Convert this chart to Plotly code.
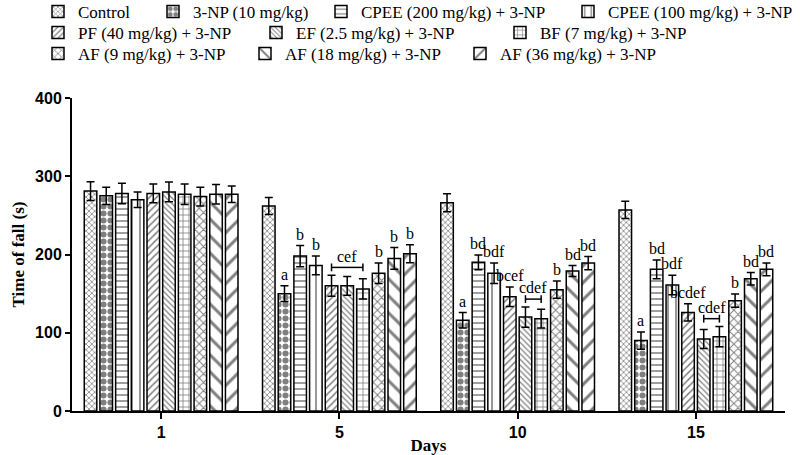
import plotly.graph_objects as go

days = ["1", "5", "10", "15"]
series_names = [
    "Control", "3-NP (10 mg/kg)", "CPEE (200 mg/kg) + 3-NP", "CPEE (100 mg/kg) + 3-NP",
    "PF (40 mg/kg) + 3-NP", "EF (2.5 mg/kg) + 3-NP", "BF (7 mg/kg) + 3-NP",
    "AF (9 mg/kg) + 3-NP", "AF (18 mg/kg) + 3-NP", "AF (36 mg/kg) + 3-NP",
]
control = [281, 262, 266, 257]
np3 = [275, 150, 116, 90]
cpee200 = [278, 198, 190, 181]
cpee100 = [270, 186, 176, 161]
pf40 = [278, 160, 146, 126]
ef25 = [280, 160, 120, 92]
bf7 = [277, 156, 118, 95]
af9 = [274, 176, 155, 141]
af18 = [277, 195, 179, 169]
af36 = [277, 201, 189, 181]
values = [control, np3, cpee200, cpee100, pf40, ef25, bf7, af9, af18, af36]

err_control = [12, 11, 11.5, 11]
err_np3 = [11, 10, 10, 11]
err_cpee200 = [13, 13.5, 9.5, 12]
err_cpee100 = [10, 12, 13, 12.5]
err_pf40 = [12, 13.5, 12.5, 11]
err_ef25 = [12.5, 12, 13, 12]
err_bf7 = [13, 13, 12, 13]
err_af9 = [12, 13, 11, 8.5]
err_af18 = [12.5, 14, 7, 8]
err_af36 = [10.5, 11.5, 8.5, 8]
errors = [err_control, err_np3, err_cpee200, err_cpee100, err_pf40, err_ef25,
          err_bf7, err_af9, err_af18, err_af36]

# significance letters per series per day
labels = [
    ["", "", "", ""],
    ["", "a", "a", "a"],
    ["", "b", "bd", "bd"],
    ["", "b", "bdf", "bdf"],
    ["", "", "bcef", "bcdef"],
    ["", "", "", ""],
    ["", "", "", ""],
    ["", "b", "b", "b"],
    ["", "b", "bd", "bd"],
    ["", "b", "bd", "bd"],
]
# bracket labels: (day index, first series, last series, label)
brackets = [(1, 4, 6, "cef"), (2, 5, 6, "cdef"), (3, 5, 6, "cdef")]

patterns = [
    dict(shape="x", size=4, solidity=0.35),
    dict(shape=".", size=7, solidity=0.6),
    dict(shape="-", size=6, solidity=0.25),
    dict(shape="|", size=8, solidity=0.2),
    dict(shape="/", size=5, solidity=0.3),
    dict(shape="\\", size=4, solidity=0.3),
    dict(shape="+", size=6, solidity=0.25),
    dict(shape="x", size=6, solidity=0.3),
    dict(shape="\\", size=12, solidity=0.25),
    dict(shape="/", size=12, solidity=0.25),
]
# legend layout: (icon left px, row center px) for each series
legend_pos = [(40, 12), (155, 12), (323, 12), (570, 12),
              (40, 33), (258, 33), (502, 33),
              (40, 54), (247, 54), (462, 54)]

xpos = list(range(len(days)))
bargap = 0.12
nser = len(series_names)
slot = (1 - bargap) / nser

fig = go.Figure()
for i, name in enumerate(series_names):
    p = dict(patterns[i])
    p.update(fgcolor="black", bgcolor="white")
    lid = "legend" if i == 0 else f"legend{i + 1}"
    fig.add_trace(go.Bar(
        x=xpos, y=values[i], name=name, legend=lid, showlegend=True,
        marker=dict(color="white", line=dict(color="black", width=1.5), pattern=p),
        error_y=dict(type="data", array=errors[i], visible=True, color="black",
                     thickness=1.5, width=4),
    ))

def bar_center(day, s):
    return xpos[day] - (1 - bargap) / 2 + slot * (s + 0.5)

serif = "Liberation Serif, Times New Roman, serif"
for s in range(nser):
    for d in range(len(days)):
        if labels[s][d]:
            fig.add_annotation(x=bar_center(d, s), y=values[s][d] + errors[s][d] + 1,
                               text=labels[s][d], showarrow=False, yanchor="bottom",
                               font=dict(family=serif, size=16, color="black"))
for d, s0, s1, lab in brackets:
    ytop = max(values[s][d] + errors[s][d] for s in range(s0, s1 + 1)) + 10
    x0, x1 = bar_center(d, s0), bar_center(d, s1)
    fig.add_shape(type="line", x0=x0, x1=x1, y0=ytop, y1=ytop, line=dict(color="black", width=1.5))
    fig.add_shape(type="line", x0=x0, x1=x0, y0=ytop - 5, y1=ytop + 5, line=dict(color="black", width=1.5))
    fig.add_shape(type="line", x0=x1, x1=x1, y0=ytop - 5, y1=ytop + 5, line=dict(color="black", width=1.5))
    fig.add_annotation(x=(x0 + x1) / 2, y=ytop + 1, text=lab, showarrow=False, yanchor="bottom",
                       font=dict(family=serif, size=16, color="black"))

legfont = dict(family=serif, size=17, color="black")
legends = {}
for i, (lx, ly) in enumerate(legend_pos):
    lid = "legend" if i == 0 else f"legend{i + 1}"
    legends[lid] = dict(orientation="h", x=(lx - 2) / 800, y=1 - ly / 455,
                        xref="container", yref="container", xanchor="left", yanchor="middle",
                        font=legfont, bgcolor="rgba(0,0,0,0)", borderwidth=0, visible=True)

fig.update_layout(
    width=800, height=455, showlegend=True,
    margin=dict(l=72, r=15, t=98, b=44),
    paper_bgcolor="white", plot_bgcolor="white",
    barmode="group", bargap=bargap, bargroupgap=0.2,
    xaxis=dict(range=[-0.5, len(days) - 0.5], tickvals=xpos, ticktext=days, automargin=False,
               showline=True, linecolor="black", linewidth=2, ticks="outside",
               ticklen=6, tickwidth=2, tickcolor="black", showgrid=False, zeroline=False,
               tickfont=dict(family="Liberation Sans, Arial", size=16, color="black", weight="bold"),
               title=dict(text="<b>Days</b>", font=dict(family=serif, size=17, color="black"), standoff=0)),
    yaxis=dict(range=[0, 400], tickvals=[0, 100, 200, 300, 400], automargin=False,
               showline=True, linecolor="black", linewidth=2, ticks="outside",
               ticklen=5, tickwidth=2, tickcolor="black", showgrid=False, zeroline=False,
               tickfont=dict(family="Liberation Sans, Arial", size=16, color="black", weight="bold"),
               title=dict(text="<b>Time of fall (s)</b>", font=dict(family=serif, size=17, color="black"), standoff=6)),
    **legends,
)
fig.write_html("out.html", config={"displayModeBar": False},
               post_script="document.body.style.margin='0px';")
